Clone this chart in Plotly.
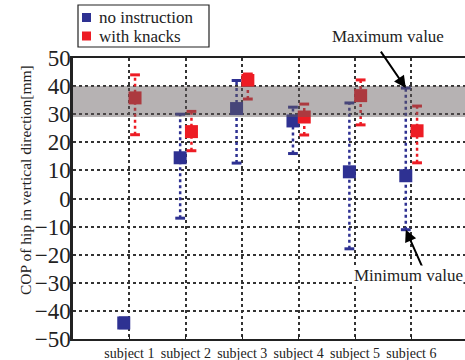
import plotly.graph_objects as go

subjects = ["subject 1", "subject 2", "subject 3", "subject 4", "subject 5", "subject 6"]
no_instr_mean = [-44.3, 14.5, 32.0, 27.6, 9.5, 8.1]
no_instr_max = [-42.5, 30.0, 42.0, 32.5, 34.0, 39.3]
no_instr_min = [-46.0, -7.0, 12.6, 16.0, -17.9, -11.1]
knacks_mean = [35.8, 23.8, 42.0, 29.0, 36.6, 24.1]
knacks_max = [44.0, 31.0, 44.3, 33.6, 42.2, 32.9]
knacks_min = [22.7, 17.0, 35.4, 22.6, 26.2, 12.7]
series_names = ["no instruction", "with knacks"]
band = [29.0, 40.0]
y_ticks = [-50, -40, -30, -20, -10, 0, 10, 20, 30, 40, 50]

BLUE = "#2e3192"
RED = "#ed1c24"
FONT = "Liberation Serif, Times New Roman, serif"

# plot-area geometry (px) used to place paper-referenced items
L, T, B, W, H = 73, 58, 21, 392, 281
def px(xp):
    return (xp - L) / W
def py(yp):
    return (360 - B - yp) / H

fig = go.Figure()

def add_series(name, means, maxs, mins, color, offset):
    xs = [i + 1 + offset for i in range(len(means))]
    lx, ly = [], []
    for x, lo, hi in zip(xs, mins, maxs):
        lx += [x, x, None]
        ly += [lo, hi, None]
    fig.add_trace(go.Scatter(x=lx, y=ly, mode="lines", showlegend=False, hoverinfo="skip",
                             line=dict(color=color, width=2.5, dash="dot")))
    fig.add_trace(go.Scatter(x=xs + xs, y=maxs + mins, mode="markers", showlegend=False,
                             hoverinfo="skip",
                             marker=dict(symbol="line-ew", size=7, color=color,
                                         line=dict(color=color, width=3))))
    fig.add_trace(go.Scatter(x=xs, y=means, mode="markers", name=name, showlegend=False,
                             marker=dict(symbol="square", size=13, color=color)))

add_series(series_names[0], no_instr_mean, no_instr_max, no_instr_min, BLUE, -0.1)
add_series(series_names[1], knacks_mean, knacks_max, knacks_min, RED, 0.1)

fig.add_shape(type="rect", xref="paper", yref="y", x0=0, x1=1, y0=band[0], y1=band[1],
              fillcolor="rgba(100,92,94,0.47)", line=dict(width=0), layer="above")

# legend box (drawn manually to match the compact original)
fig.add_shape(type="rect", xref="paper", yref="paper", x0=px(78), x1=px(209),
              y0=py(47), y1=py(5), fillcolor="white", line=dict(color="#222", width=1.2))
for i, (nm, col) in enumerate(zip(series_names, [BLUE, RED])):
    cy = 17.5 + i * 18.5
    fig.add_shape(type="rect", xref="paper", yref="paper", x0=px(82), x1=px(91),
                  y0=py(cy + 4.5), y1=py(cy - 4.5), fillcolor=col, line=dict(width=0))
    fig.add_annotation(xref="paper", yref="paper", x=px(97), y=py(cy), xanchor="left",
                       yanchor="middle", text=nm, showarrow=False,
                       font=dict(family=FONT, size=17, color="#222"))

# annotations
fig.add_annotation(x=5.9, y=no_instr_max[5], ax=5.44, ay=52.8, axref="x", ayref="y",
                   text="", showarrow=True, arrowhead=2, arrowsize=1.2, arrowwidth=2,
                   arrowcolor="black")
fig.add_annotation(xref="paper", yref="paper", x=px(388), y=py(37),
                   xanchor="center", yanchor="middle",
                   text="Maximum value", showarrow=False,
                   font=dict(family=FONT, size=17, color="#222"))
fig.add_annotation(x=5.9, y=no_instr_min[5], ax=6.2, ay=-24.7, axref="x", ayref="y",
                   text="", showarrow=True, arrowhead=2, arrowsize=1.2, arrowwidth=2,
                   arrowcolor="black")
fig.add_annotation(xref="paper", yref="paper", x=px(464), y=py(275),
                   xanchor="right", yanchor="middle", text="Minimum value", showarrow=False,
                   bgcolor="white", borderpad=0,
                   font=dict(family=FONT, size=17, color="#222"))
fig.add_annotation(xref="paper", yref="paper", x=px(25), y=py(180),
                   xanchor="center", yanchor="middle",
                   text="COP of hip in vertical direction[mm]", textangle=-90,
                   showarrow=False, font=dict(family=FONT, size=15.5, color="#222"))

fig.update_layout(
    width=465, height=360,
    margin=dict(l=L, r=0, t=T, b=B, autoexpand=False),
    plot_bgcolor="white", paper_bgcolor="white",
    font=dict(family=FONT, color="#222"),
    showlegend=False,
    xaxis=dict(range=[0, 6.95], tickvals=[1, 2, 3, 4, 5, 6], ticktext=subjects,
               tickfont=dict(family=FONT, size=14, color="#222"),
               showgrid=True, gridcolor="#333", griddash="dot", gridwidth=1.5,
               showline=True, linecolor="#222", linewidth=2, mirror=True,
               ticks="inside", ticklen=4, tickcolor="#222", zeroline=False),
    yaxis=dict(range=[-50, 50], tickvals=y_ticks,
               tickfont=dict(family=FONT, size=23, color="#222"),
               showgrid=True, gridcolor="#333", griddash="dot", gridwidth=1.5,
               showline=True, linecolor="#222", linewidth=2.5,
               zeroline=False, ticks="", ticklabelstandoff=-5),
)

fig.write_html("out.html", config={"displayModeBar": False},
               post_script="document.body.style.margin='0';document.body.style.overflow='hidden';")
